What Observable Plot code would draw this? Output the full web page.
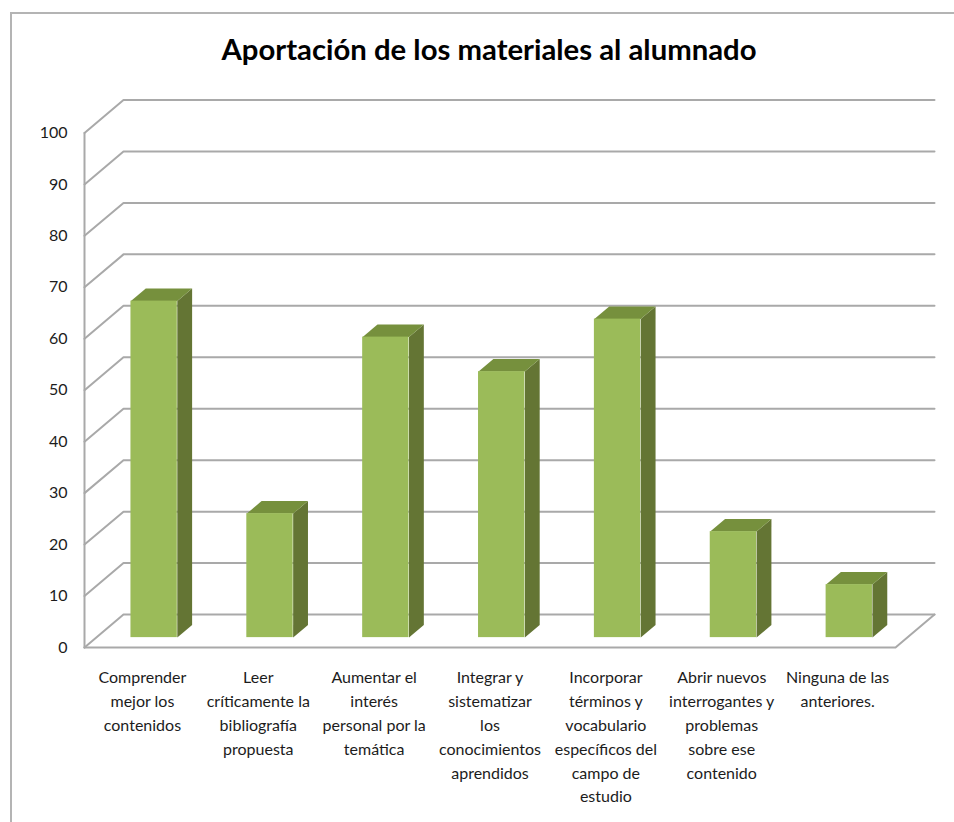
<!DOCTYPE html>
<html lang="es">
<head>
<meta charset="utf-8">
<script src="https://cdn.jsdelivr.net/npm/d3@7"></script>
<script src="https://cdn.jsdelivr.net/npm/@observablehq/plot@0.6"></script>
<style>
  html, body { margin: 0; padding: 0; background: #fff; }
  body { width: 954px; height: 822px; overflow: hidden; position: relative; font-family: Lato, "Open Sans", sans-serif; }
  #frame { position: absolute; left: 10px; top: 12px; right: 0; bottom: 0; border-left: 2px solid #b4b4b4; border-top: 2px solid #b4b4b4; pointer-events: none; }
  #title { position: relative; height: 80px; box-sizing: border-box; padding-top: 29px; margin: 0; text-align: center; font: 700 29.3px/40px Lato, sans-serif; color: #000; padding-left: 24px; }
  #chart { position: relative; height: 742px; }
  #chart svg { display: block; }
</style>
</head>
<body>
<div id="frame"></div>
<h1 id="title">Aportación de los materiales al alumnado</h1>
<div id="chart"></div>
<script>
const categories = [
  "Comprender\nmejor los\ncontenidos",
  "Leer\ncríticamente la\nbibliografía\npropuesta",
  "Aumentar el\ninterés\npersonal por la\ntemática",
  "Integrar y\nsistematizar\nlos\nconocimientos\naprendidos",
  "Incorporar\ntérminos y\nvocabulario\nespecíficos del\ncampo de\nestudio",
  "Abrir nuevos\ninterrogantes y\nproblemas\nsobre ese\ncontenido",
  "Ninguna de las\nanteriores."
];
const values = [65.4, 24.1, 58.4, 51.7, 61.9, 20.6, 10.3];
const ticks = [0, 10, 20, 30, 40, 50, 60, 70, 80, 90, 100];

// Oblique projection: a depth of 0 is the front plane, 1 the back wall.
const depthX = 0.3365, depthY = 6.4;
const px = (c, d) => c + d * depthX;
const py = (v, d) => v + d * depthY;
const n = categories.length;
const barD0 = 0.3, barD1 = 0.68, barW = 0.4;

const gridRows = ticks.flatMap(t => [
  {t, x: px(0, 0), y: py(t, 0)},
  {t, x: px(0, 1), y: py(t, 1)},
  {t, x: px(n, 1), y: py(t, 1)}
]);
const floorEdge = [
  {x: px(0, 0), y: py(0, 0)},
  {x: px(n, 0), y: py(0, 0)},
  {x: px(n, 1), y: py(0, 1)}
];
const leftAxis = [
  {x: px(0, 0), y: py(0, 0)},
  {x: px(0, 0), y: py(100, 0)}
];
const bars = values.map((v, i) => ({
  i, v,
  l: i + 0.5 - barW / 2,
  r: i + 0.5 + barW / 2
}));
const frontFaces = bars.map(b => ({
  x1: px(b.l, barD0), x2: px(b.r, barD0),
  y1: py(0, barD0), y2: py(b.v, barD0)
}));
const sideFaces = bars.flatMap(b => [
  [b.r, 0, barD0], [b.r, 0, barD1], [b.r, b.v, barD1], [b.r, b.v, barD0]
].map(([c, v, d]) => ({i: b.i, x: px(c, d), y: py(v, d)})));
const topFaces = bars.flatMap(b => [
  [b.l, barD0], [b.r, barD0], [b.r, barD1], [b.l, barD1]
].map(([c, d]) => ({i: b.i, x: px(c, d), y: py(b.v, d)})));
const labelRows = categories.map((label, i) => ({label, x: i + 0.5, y: 0}));

const gridColor = "#a9a9a9";
const plot = Plot.plot({
  width: 954,
  height: 742,
  marginLeft: 84,
  marginRight: 20,
  marginTop: 19.5,
  marginBottom: 175,
  style: {background: "transparent", fontFamily: "Lato, sans-serif"},
  x: {domain: [0, px(n, 1)], axis: null},
  y: {domain: [0, py(100, 1)], axis: null},
  marks: [
    Plot.line(gridRows, {x: "x", y: "y", z: "t", stroke: gridColor, strokeWidth: 2}),
    Plot.line(floorEdge, {x: "x", y: "y", stroke: gridColor, strokeWidth: 2}),
    Plot.line(leftAxis, {x: "x", y: "y", stroke: gridColor, strokeWidth: 2}),
    Plot.line(sideFaces, {x: "x", y: "y", z: "i", fill: "#647534", stroke: null}),
    Plot.line(topFaces, {x: "x", y: "y", z: "i", fill: "#76903d", stroke: null}),
    Plot.rect(frontFaces, {x1: "x1", x2: "x2", y1: "y1", y2: "y2", fill: "#9bbb59"}),
    Plot.axisY({
      ticks,
      anchor: "left",
      tickSize: 0,
      tickPadding: 17,
      label: null,
      fontSize: 16,
      color: "#1c1c1c"
    }),
    Plot.text(labelRows, {
      x: "x", y: "y", text: "label",
      dy: 19, dx: 0,
      lineAnchor: "top", textAnchor: "middle",
      lineHeight: 1.4875,
      fontSize: 16,
      fill: "#1c1c1c"
    })
  ]
});
document.getElementById("chart").append(plot);
</script>
</body>
</html>
